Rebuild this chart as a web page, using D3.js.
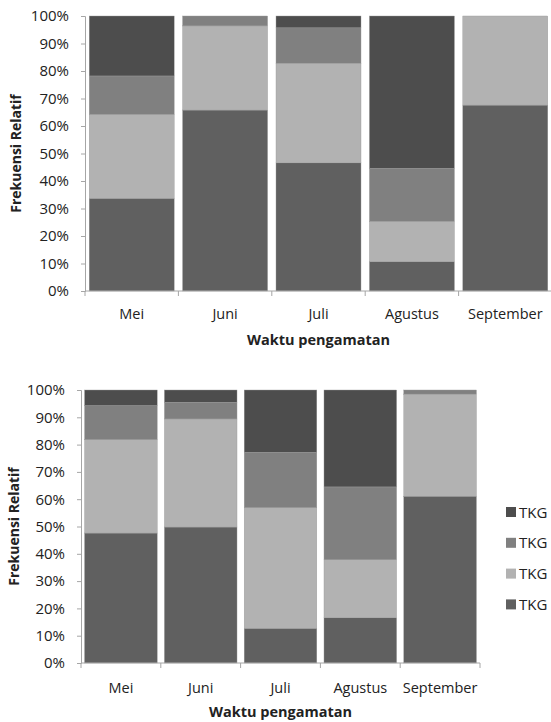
<!DOCTYPE html>
<html>
<head>
<meta charset="utf-8">
<script src="https://cdn.jsdelivr.net/npm/d3@7"></script>
<style>
  body { margin: 0; background: #fff; }
  svg text { font-family: "Open Sans", sans-serif; fill: #222; }
</style>
</head>
<body>
<div id="chart"></div>
<script>
// months on the x axis, same for both panels
const months = ["Mei", "Juni", "Juli", "Agustus", "September"];
const seriesNames = ["TKG", "TKG", "TKG", "TKG"]; // stacked bottom -> top
const tickValues = [0, 0.1, 0.2, 0.3, 0.4, 0.5, 0.6, 0.7, 0.8, 0.9, 1];

// upper panel, percent per series (bottom -> top)
const topS1 = [33.7, 65.8, 46.6, 10.7, 67.6];
const topS2 = [30.5, 30.6, 36.2, 14.6, 32.4];
const topS3 = [14.0, 3.6, 12.9, 19.3, 0];
const topS4 = [21.8, 0, 4.3, 55.4, 0];

// lower panel
const botS1 = [47.6, 49.8, 12.7, 16.6, 61.1];
const botS2 = [34.2, 39.6, 44.2, 21.2, 37.4];
const botS3 = [12.5, 6.1, 20.3, 26.7, 1.5];
const botS4 = [5.7, 4.5, 22.8, 35.5, 0];

const colors = ["#606060", "#b2b2b2", "#808080", "#4d4d4d"];

const svg = d3.select("#chart").append("svg")
    .attr("width", 551)
    .attr("height", 722);

function buildRows(s1, s2, s3, s4) {
    return months.map((m, i) => ({month: m, s0: s1[i], s1: s2[i], s2: s3[i], s3: s4[i]}));
}

function drawPanel(rows, box) {
    const g = svg.append("g");
    const x = d3.scaleBand().domain(months).range([box.x0, box.x1]).paddingInner(0.09).paddingOuter(0.045);
    const y = d3.scaleLinear().domain([0, 1]).range([box.y1, box.y0]);

    const keys = ["s0", "s1", "s2", "s3"];
    const stack = d3.stack().keys(keys).offset(d3.stackOffsetExpand);
    const layers = stack(rows);

    g.selectAll("g.layer")
        .data(layers)
        .join("g")
        .attr("class", "layer")
        .attr("fill", (d, i) => colors[i])
        .selectAll("rect")
        .data(d => d)
        .join("rect")
        .attr("x", d => x(d.data.month))
        .attr("width", x.bandwidth())
        .attr("y", d => y(d[1]))
        .attr("height", d => Math.max(0, y(d[0]) - y(d[1])))
        .attr("stroke", "#9a9a9a")
        .attr("stroke-width", 0.4);

    // y axis
    const yAxis = g.append("g")
        .attr("transform", `translate(${box.x0},0)`)
        .call(d3.axisLeft(y).tickValues(tickValues).tickFormat(d3.format(".0%")).tickSize(4).tickPadding(box.tickPad));
    yAxis.selectAll("text").style("font-size", "15px").attr("fill", "#222");

    // x axis with ticks between categories
    const xAxis = g.append("g")
        .attr("transform", `translate(0,${box.y1})`);
    xAxis.append("line")
        .attr("x1", box.x0).attr("x2", box.x1)
        .attr("stroke", "#a6a6a6");
    const edges = months.map(m => x(m) - x.step() * x.paddingInner() / 2);
    edges.push(box.x1);
    xAxis.selectAll("line.tk")
        .data(edges)
        .join("line")
        .attr("class", "tk")
        .attr("x1", d => d).attr("x2", d => d)
        .attr("y1", 0).attr("y2", 5)
        .attr("stroke", "#a6a6a6");
    xAxis.selectAll("text.lbl")
        .data(months)
        .join("text")
        .attr("class", "lbl")
        .attr("x", d => x(d) + x.bandwidth() / 2)
        .attr("y", box.labelDy)
        .attr("text-anchor", "middle")
        .style("font-size", "14.5px")
        .text(d => d);

    yAxis.select(".domain").attr("stroke", "#a6a6a6");
    yAxis.selectAll(".tick line").attr("stroke", "#a6a6a6");

    g.append("text")
        .attr("x", (box.x0 + box.x1) / 2)
        .attr("y", box.y1 + box.titleDy)
        .attr("text-anchor", "middle")
        .style("font-size", "14.5px")
        .style("font-weight", "bold")
        .text("Waktu pengamatan");

    g.append("text")
        .attr("transform", `translate(${box.yTitleX},${(box.y0 + box.y1) / 2}) rotate(-90)`)
        .attr("text-anchor", "middle")
        .style("font-size", "14px")
        .style("font-weight", "bold")
        .text("Frekuensi Relatif");
}

drawPanel(buildRows(topS1, topS2, topS3, topS4),
    {x0: 85, x1: 552, y0: 16, y1: 291, tickPad: 12, labelDy: 28, titleDy: 54, yTitleX: 21});
drawPanel(buildRows(botS1, botS2, botS3, botS4),
    {x0: 81, x1: 480, y0: 390, y1: 663, tickPad: 12, labelDy: 30, titleDy: 54, yTitleX: 19});

// legend for lower panel, top entry = top of stack
const legendRows = seriesNames.map((n, i) => ({name: n, color: colors[i]})).reverse();
const legend = svg.append("g").attr("transform", "translate(506,512)");
const li = legend.selectAll("g")
    .data(legendRows)
    .join("g")
    .attr("transform", (d, i) => `translate(0,${i * 30.8})`);
li.append("rect")
    .attr("x", 0).attr("y", -5)
    .attr("width", 10).attr("height", 10)
    .attr("fill", d => d.color);
li.append("text")
    .attr("x", 13).attr("y", 5.5)
    .style("font-size", "15px")
    .text(d => d.name);
</script>
</body>
</html>
